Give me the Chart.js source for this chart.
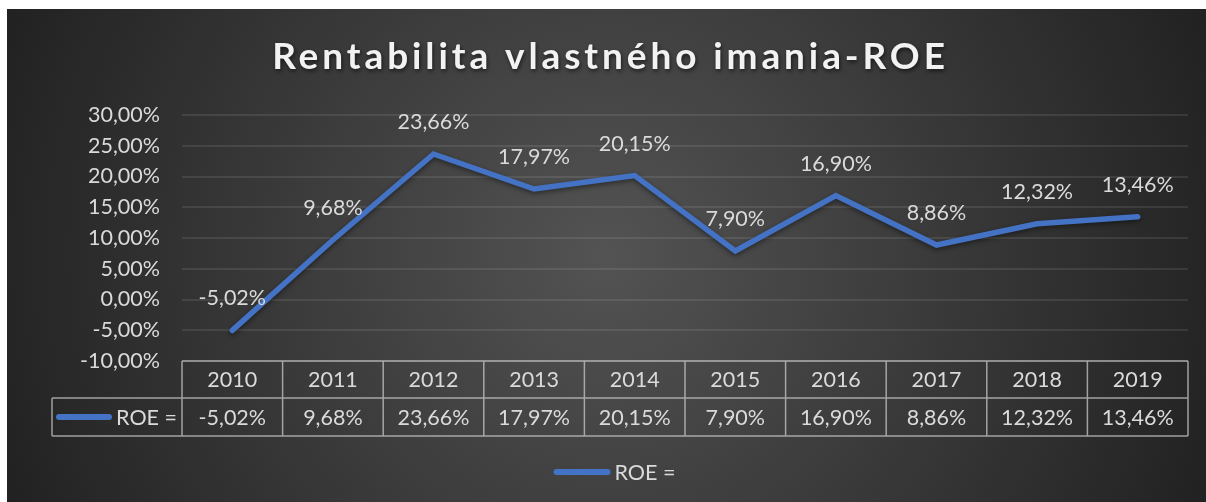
<!DOCTYPE html>
<html>
<head>
<meta charset="utf-8">
<script src="https://cdn.jsdelivr.net/npm/chart.js@4"></script>
<style>
html,body{margin:0;padding:0;background:#ffffff;}
#wrap{position:absolute;left:7px;top:9px;width:1199px;height:493px;}
</style>
</head>
<body>
<div id="wrap"><canvas id="c" width="1199" height="493"></canvas></div>
<script>
const TITLE = 'Rentabilita vlastného imania-ROE';
const SERIES_NAME = 'ROE =';
const YEARS = ['2010', '2011', '2012', '2013', '2014', '2015', '2016', '2017', '2018', '2019'];
const ROE = [-5.02, 9.68, 23.66, 17.97, 20.15, 7.90, 16.90, 8.86, 12.32, 13.46];
const Y_MIN = -10;
const Y_MAX = 30;
const Y_STEP = 5;

const FONT = 'Lato, "Open Sans", sans-serif';
const TEXT_COLOR = '#dadada';
const LINE_COLOR = '#4472C4';
const FS = 21.5;
const fmt = v => Number(v).toFixed(2).replace('.', ',') + '%';

const decor = {
  id: 'decor',
  beforeDraw(chart) {
    const {ctx, width: W, height: H} = chart;
    ctx.save();
    const g = ctx.createRadialGradient(W * 0.5, H * 0.5, 0, W * 0.5, H * 0.5, 680);
    g.addColorStop(0, '#535353');
    g.addColorStop(1, '#1f1f1f');
    ctx.fillStyle = g;
    ctx.fillRect(0, 0, W, H);
    // title
    ctx.font = 'bold 37px ' + FONT;
    ctx.letterSpacing = '3.9px';
    ctx.textAlign = 'center';
    ctx.textBaseline = 'middle';
    ctx.shadowColor = 'rgba(0,0,0,0.6)';
    ctx.shadowBlur = 4;
    ctx.shadowOffsetX = 1;
    ctx.shadowOffsetY = 2;
    ctx.fillStyle = '#f2f2f2';
    ctx.fillText(TITLE, W / 2 + 4, 48);
    ctx.restore();
  },
  beforeDatasetDraw(chart) {
    const ctx = chart.ctx;
    ctx.save();
    ctx.shadowColor = 'rgba(0,0,0,0.45)';
    ctx.shadowBlur = 5;
    ctx.shadowOffsetY = 2;
  },
  afterDatasetDraw(chart) {
    chart.ctx.restore();
  },
  afterDatasetsDraw(chart) {
    const {ctx} = chart;
    const meta = chart.getDatasetMeta(0);
    ctx.save();
    ctx.font = FS + 'px ' + FONT;
    ctx.fillStyle = TEXT_COLOR;
    ctx.textAlign = 'center';
    ctx.textBaseline = 'middle';
    meta.data.forEach((pt, i) => {
      ctx.fillText(fmt(ROE[i]), pt.x, pt.y - 32);
    });
    ctx.restore();
  },
  afterDraw(chart) {
    const {ctx, chartArea: a, width: W} = chart;
    const xs = chart.scales.x;
    const n = YEARS.length;
    const colW = (a.right - a.left) / n;
    const top = a.bottom;
    const r1 = top + 37;
    const r2 = top + 75;
    const legLeft = 45;
    ctx.save();
    ctx.strokeStyle = 'rgba(200,200,200,0.75)';
    ctx.lineWidth = 1.5;
    ctx.beginPath();
    ctx.moveTo(a.left, top); ctx.lineTo(a.right, top);
    ctx.moveTo(legLeft, r1); ctx.lineTo(a.right, r1);
    ctx.moveTo(legLeft, r2); ctx.lineTo(a.right, r2);
    ctx.moveTo(legLeft, r1); ctx.lineTo(legLeft, r2);
    for (let i = 0; i <= n; i++) {
      const x = a.left + i * colW;
      ctx.moveTo(x, top); ctx.lineTo(x, r2);
    }
    ctx.stroke();
    ctx.font = FS + 'px ' + FONT;
    ctx.fillStyle = TEXT_COLOR;
    ctx.textAlign = 'center';
    ctx.textBaseline = 'middle';
    YEARS.forEach((y, i) => {
      const x = xs.getPixelForValue(i);
      ctx.fillText(y, x, (top + r1) / 2 + 1);
      ctx.fillText(fmt(ROE[i]), x, (r1 + r2) / 2 + 1);
    });
    // legend key inside table
    const ym = (r1 + r2) / 2;
    ctx.strokeStyle = LINE_COLOR;
    ctx.lineWidth = 6;
    ctx.lineCap = 'round';
    ctx.beginPath();
    ctx.moveTo(52, ym); ctx.lineTo(102, ym);
    ctx.stroke();
    ctx.textAlign = 'right';
    ctx.fillText(SERIES_NAME, a.left - 5, ym + 1);
    // bottom legend
    ctx.textAlign = 'left';
    const tw = ctx.measureText(SERIES_NAME).width;
    const total = 57 + 4 + tw;
    const lx = W / 2 + 8 - total / 2;
    const ly = 463;
    ctx.beginPath();
    ctx.moveTo(lx + 3, ly); ctx.lineTo(lx + 54, ly);
    ctx.stroke();
    ctx.fillText(SERIES_NAME, lx + 61, ly + 1);
    ctx.restore();
  }
};

Chart.defaults.font.family = FONT;

new Chart(document.getElementById('c').getContext('2d'), {
  type: 'line',
  data: {
    labels: YEARS,
    datasets: [{
      label: SERIES_NAME,
      data: ROE,
      borderColor: LINE_COLOR,
      backgroundColor: LINE_COLOR,
      borderWidth: 5.5,
      pointRadius: 0,
      tension: 0,
      fill: false,
      borderCapStyle: 'round',
      borderJoinStyle: 'miter'
    }]
  },
  options: {
    responsive: false,
    animation: false,
    devicePixelRatio: 1,
    layout: {padding: {left: 0, right: 18, top: 106, bottom: 0}},
    plugins: {
      legend: {display: false},
      title: {display: false},
      tooltip: {enabled: false}
    },
    scales: {
      x: {
        type: 'category',
        offset: true,
        grid: {display: false},
        border: {display: false},
        ticks: {display: false},
        afterFit(s) { s.height = 141; }
      },
      y: {
        min: Y_MIN,
        max: Y_MAX,
        ticks: {
          stepSize: Y_STEP,
          color: TEXT_COLOR,
          font: {size: FS},
          padding: 22,
          callback: v => fmt(v)
        },
        grid: {color: 'rgba(255,255,255,0.09)', lineWidth: 2, drawTicks: false},
        border: {display: false},
        afterFit(s) { s.width = 175; }
      }
    }
  },
  plugins: [decor]
});
</script>
</body>
</html>
